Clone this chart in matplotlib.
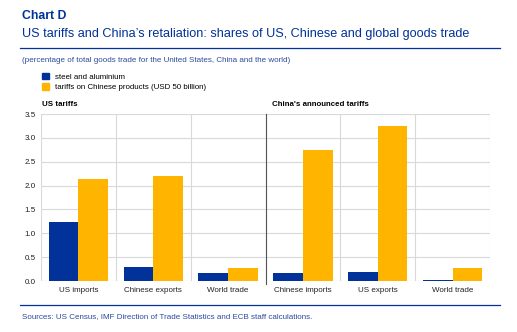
import matplotlib.pyplot as plt
from matplotlib.lines import Line2D
from matplotlib.patches import Patch

plt.rcParams['font.family'] = ['Liberation Sans', 'DejaVu Sans']

categories = ['US imports', 'Chinese exports', 'World trade',
              'Chinese imports', 'US exports', 'World trade']
steel = [1.24, 0.29, 0.17, 0.17, 0.195, 0.02]
tariffs_50bn = [2.14, 2.20, 0.28, 2.74, 3.25, 0.28]
series_names = ['steel and aluminium', 'tariffs on Chinese products (USD 50 billion)']
panel_titles = ['US tariffs', "China's announced tariffs"]

blue = '#003299'
yellow = '#FFB400'
grid = '#d9d9d9'

fig = plt.figure(figsize=(5.17, 3.32), dpi=100)
ax = fig.add_axes([0.0793, 0.1536, 0.8685, 0.503])

w = 0.396
x = range(len(categories))
ax.bar([i + 0.5 - w / 2 for i in x], steel, width=w, color=blue, zorder=3)
ax.bar([i + 0.5 + w / 2 for i in x], tariffs_50bn, width=w, color=yellow, zorder=3)

ax.set_xlim(0, len(categories))
ax.set_ylim(0, 3.5)
ax.set_yticks([0, 0.5, 1, 1.5, 2, 2.5, 3, 3.5])
ax.set_yticklabels(['%.1f' % v for v in ax.get_yticks()], fontsize=5.8, color='#222222')
ax.set_xticks([i + 0.5 for i in x])
ax.set_xticklabels(categories, fontsize=5.8, color='#222222')
ax.tick_params(length=0, pad=4)
for v in ax.get_yticks():
    ax.axhline(v, color=grid, lw=0.8, zorder=1)
for i in range(len(categories) + 1):
    ax.axvline(i, color=grid, lw=0.8, zorder=1)
ax.axvline(3, color='#555555', lw=0.8, zorder=4, ymin=-0.02, clip_on=False)
for s in ax.spines.values():
    s.set_visible(False)

# header / footer
fig.text(22 / 517, 1 - 16 / 332, 'Chart D', color=blue, fontsize=8.8,
         fontweight='bold', va='center')
fig.text(22 / 517, 1 - 34 / 332,
         "US tariffs and China\u2019s retaliation: shares of US, Chinese and global goods trade",
         color=blue, fontsize=9.05, va='center')
fig.add_artist(Line2D([20 / 517, 500 / 517], [1 - 48 / 332] * 2, color=blue, lw=0.9))
fig.text(22 / 517, 1 - 61 / 332,
         '(percentage of total goods trade for the United States, China and the world)',
         color='#2c4a9a', fontsize=5.8, va='center')
fig.legend(handles=[Patch(color=blue), Patch(color=yellow)], labels=series_names,
           loc='upper left', bbox_to_anchor=(42 / 517, 1 - 73 / 332), frameon=False,
           fontsize=5.7, handlelength=0.85, handleheight=0.85, handletextpad=0.75,
           labelspacing=0.3, borderpad=0, borderaxespad=0)
fig.text(42 / 517, 1 - 105 / 332, panel_titles[0], fontsize=5.7, fontweight='bold', va='center')
fig.text(272 / 517, 1 - 105 / 332, panel_titles[1], fontsize=5.7, fontweight='bold', va='center')
fig.add_artist(Line2D([20 / 517, 500 / 517], [1 - 305 / 332] * 2, color=blue, lw=0.9))
fig.text(22 / 517, 1 - 317 / 332,
         'Sources: US Census, IMF Direction of Trade Statistics and ECB staff calculations.',
         color='#2c4a9a', fontsize=5.8, va='center')

fig.savefig('out.png', dpi=100)
